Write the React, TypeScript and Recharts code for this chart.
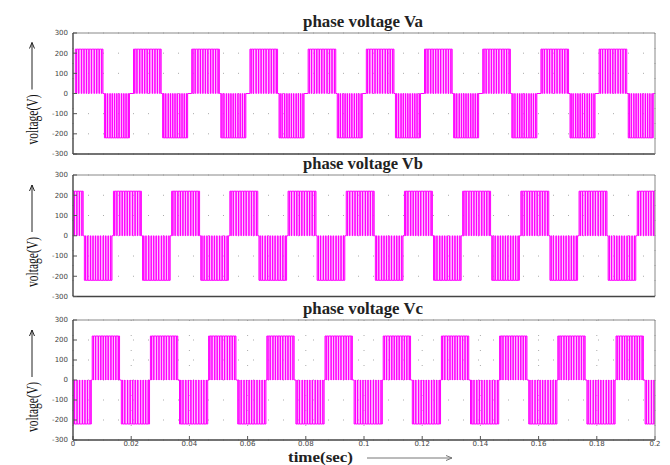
import React from 'react';
import { ComposedChart, Area, XAxis, YAxis, CartesianGrid } from 'recharts';

// Time axis (s)
const TIME_TICKS = [0, 0.02, 0.04, 0.06, 0.08, 0.1, 0.12, 0.14, 0.16, 0.18, 0.2];
const TIME_TICK_LABELS = ['0', '0.02', '0.04', '0.06', '0.08', '0.1', '0.12', '0.14', '0.16', '0.18', '0.2'];
const TIME_END = 0.2;

// Voltage axis (V)
const VOLT_TICKS = [-300, -200, -100, 0, 100, 200, 300];

// PWM block amplitude (V) and fundamental period (s)
const DC_LEVEL = 220;
const PERIOD = 0.02;

// Block edges inside one period: [posStart, posEnd, negStart, negEnd] (s)
const VA_EDGES = [0.0008, 0.0103, 0.0108, 0.0194];
const VB_EDGES = [0.0139, 0.0235, 0.0039, 0.0134];
const VC_EDGES = [0.0066, 0.016, 0.0166, 0.0263];

// Switching notches inside each block, as a fraction of the block width
const NOTCH_FRACTIONS = [0.04, 0.12, 0.22, 0.31, 0.4, 0.49, 0.58, 0.68, 0.77, 0.86, 0.95];
const NOTCH_WIDTH = 0.00008;

const PANEL_TITLES = ['phase voltage Va', 'phase voltage Vb', 'phase voltage Vc'];

type Pt = { t: number; v: number };

function buildWave(edges: number[]): Pt[] {
  const blocks: { s: number; e: number; level: number }[] = [];
  for (let k = -1; k <= 10; k++) {
    blocks.push({ s: edges[0] + k * PERIOD, e: edges[1] + k * PERIOD, level: DC_LEVEL });
    blocks.push({ s: edges[2] + k * PERIOD, e: edges[3] + k * PERIOD, level: -DC_LEVEL });
  }
  blocks.sort((a, b) => a.s - b.s);
  const pts: Pt[] = [{ t: 0, v: 0 }];
  for (const b of blocks) {
    if (b.e <= 0 || b.s >= TIME_END) continue;
    const s0 = Math.max(b.s, 0);
    const e0 = Math.min(b.e, TIME_END);
    pts.push({ t: s0, v: 0 }, { t: s0, v: b.level });
    for (const f of NOTCH_FRACTIONS) {
      const tn = b.s + f * (b.e - b.s);
      if (tn <= s0 || tn + NOTCH_WIDTH >= e0) continue;
      pts.push(
        { t: tn, v: b.level },
        { t: tn, v: 0 },
        { t: tn + NOTCH_WIDTH, v: 0 },
        { t: tn + NOTCH_WIDTH, v: b.level }
      );
    }
    pts.push({ t: e0, v: b.level }, { t: e0, v: 0 });
  }
  pts.push({ t: TIME_END, v: 0 });
  return pts;
}

const WAVES = [buildWave(VA_EDGES), buildWave(VB_EDGES), buildWave(VC_EDGES)];

const tickFont = { fontSize: 7, fill: '#444', fontFamily: 'DejaVu Sans' };

type PanelProps = {
  data: Pt[];
  top: number;
  height: number;
  plotTop: number;
  plotBottom: number;
  showTime: boolean;
};

function Panel({ data, top, height, plotTop, plotBottom, showTime }: PanelProps) {
  // one pixel of each margin is taken by the 1px-thick axes
  const margin = { top: plotTop - 1, bottom: height - plotBottom - 1, left: 72, right: 14 };
  return (
    <div style={{ position: 'absolute', left: 0, top, width: 670, height }}>
      <ComposedChart width={670} height={height} data={data} margin={margin}>
        <CartesianGrid xAxisId="b" yAxisId="l" stroke="#aaa" strokeDasharray="1 14" />
        <XAxis
          xAxisId="b"
          dataKey="t"
          type="number"
          domain={[0, TIME_END]}
          ticks={TIME_TICKS}
          interval={0}
          allowDataOverflow
          height={1}
          tickSize={-4}
          tickMargin={5}
          tick={showTime ? tickFont : false}
          tickFormatter={(v: number) => TIME_TICK_LABELS[TIME_TICKS.indexOf(v)] ?? String(v)}
          axisLine={{ stroke: '#444', strokeWidth: 1.4 }}
          tickLine={{ stroke: '#555' }}
        />
        <XAxis
          xAxisId="t"
          orientation="top"
          type="number"
          domain={[0, TIME_END]}
          ticks={TIME_TICKS}
          interval={0}
          allowDataOverflow
          height={1}
          tickSize={-4}
          tick={false}
          axisLine={{ stroke: '#888' }}
          tickLine={{ stroke: '#666' }}
        />
        <YAxis
          yAxisId="l"
          type="number"
          domain={[-300, 300]}
          ticks={VOLT_TICKS}
          interval={0}
          allowDataOverflow
          width={1}
          tickSize={-4}
          tickMargin={9}
          tick={tickFont}
          axisLine={{ stroke: '#444', strokeWidth: 1.4 }}
          tickLine={{ stroke: '#555' }}
        />
        <YAxis
          yAxisId="r"
          orientation="right"
          type="number"
          domain={[-300, 300]}
          ticks={VOLT_TICKS}
          interval={0}
          allowDataOverflow
          width={1}
          tickSize={-4}
          tick={false}
          axisLine={{ stroke: '#888' }}
          tickLine={{ stroke: '#666' }}
        />
        <Area
          xAxisId="b"
          yAxisId="l"
          dataKey="v"
          type="linear"
          baseValue={0}
          stroke="#ff00ff"
          strokeWidth={1}
          fill="#ff88ff"
          fillOpacity={0.5}
          dot={false}
          activeDot={false}
          isAnimationActive={false}
        />
      </ComposedChart>
    </div>
  );
}

function YLabel({ cy }: { cy: number }) {
  const ax = 32;
  const a1 = cy - 4;
  const a2 = cy - 51;
  return (
    <g>
      <line x1={ax} y1={a1} x2={ax} y2={a2} stroke="#222" strokeWidth={1} />
      <polyline points={`${ax - 2.5},${a2 + 6} ${ax},${a2} ${ax + 2.5},${a2 + 6}`} fill="none" stroke="#222" strokeWidth={1} />
      <text
        x={0}
        y={0}
        transform={`translate(38 ${cy + 26}) rotate(-90)`}
        textAnchor="middle"
        fontFamily="Liberation Serif"
        fontSize={16}
        fill="#111"
        textLength={50}
        lengthAdjust="spacingAndGlyphs"
      >
        voltage(V)
      </text>
    </g>
  );
}

export default function App() {
  return (
    <div style={{ position: 'absolute', left: 0, top: 0, width: 670, height: 465, background: '#fff', overflow: 'hidden' }}>
      <Panel data={WAVES[0]} top={0} height={160} plotTop={33} plotBottom={154} showTime={false} />
      <Panel data={WAVES[1]} top={160} height={145} plotTop={15} plotBottom={136.5} showTime={false} />
      <Panel data={WAVES[2]} top={305} height={160} plotTop={15} plotBottom={135} showTime={true} />
      <svg width={670} height={465} style={{ position: 'absolute', left: 0, top: 0, pointerEvents: 'none' }}>
        {[27, 169, 314].map((y, i) => (
          <text
            key={i}
            x={363}
            y={y}
            textAnchor="middle"
            fontFamily="Liberation Serif"
            fontWeight="bold"
            fontSize={16}
            fill="#222"
            textLength={120}
            lengthAdjust="spacingAndGlyphs"
          >
            {PANEL_TITLES[i]}
          </text>
        ))}
        <YLabel cy={93.5} />
        <YLabel cy={236} />
        <YLabel cy={381} />
        <text x={288} y={462} fontFamily="Liberation Serif" fontWeight="bold" fontSize={15} fill="#222" textLength={65} lengthAdjust="spacingAndGlyphs">
          time(sec)
        </text>
        <line x1={367} y1={458} x2={452} y2={458} stroke="#777" strokeWidth={1} />
        <polyline points="446,455.5 452,458 446,460.5" fill="none" stroke="#777" strokeWidth={1} />
      </svg>
    </div>
  );
}
